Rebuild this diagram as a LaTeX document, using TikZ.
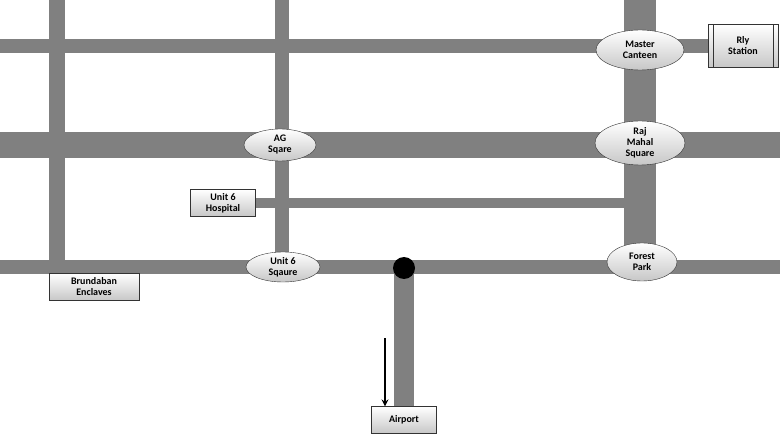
\documentclass[tikz,border=0pt]{standalone}
\usepackage{fontspec}
\setmainfont{Carlito}
\usetikzlibrary{shapes.geometric}
\usetikzlibrary{positioning}

\tikzset{
  road/.style={draw=none,fill=black!50},
  place/.style={ellipse,draw=black!80,top color=white,bottom color=black!22,
    font=\bfseries\fontsize{10}{11}\selectfont,align=center,inner sep=0pt},
  stop/.style={rectangle,draw=black!80,top color=white,bottom color=black!22,
    font=\bfseries\fontsize{10}{11}\selectfont,align=center,inner sep=0pt}
}

\begin{document}
\begin{tikzpicture}[x=1pt,y=-1pt]
    \useasboundingbox (0,0) rectangle (780,441);

    % roads
    \fill [road] (0,39) rectangle (710,53);
    \fill [road] (0,132) rectangle (780,158);
    \fill [road] (255,198) rectangle (625,208);
    \fill [road] (0,260) rectangle (780,274);
    \fill [road] (49,0) rectangle (65,267);
    \fill [road] (275,0) rectangle (289,267);
    \fill [road] (624,0) rectangle (656,267);
    \fill [road] (394,267) rectangle (414,408);

    % places
    \node [place,minimum width=88,minimum height=40] (canteen) at (640,50) {Master\\Canteen};
    \node [place,minimum width=90,minimum height=44] (rajmahal) at (640,143) {Raj\\Mahal\\Square};
    \node [place,minimum width=72,minimum height=32] (agsq) at (280,145) {AG\\Sqare};
    \node [place,minimum width=70,minimum height=38] (forest) at (642,262) {Forest\\Park};
    \node [place,minimum width=74,minimum height=30] (unitsq) at (283,267) {Unit 6\\Sqaure};

    % stops
    \node [stop,minimum width=70,minimum height=43] (rly) at (743,46) {Rly\\Station};
    \draw [black!80] ([xshift=5]rly.north west) -- ([xshift=5]rly.south west);
    \draw [black!80] ([xshift=-5]rly.north east) -- ([xshift=-5]rly.south east);
    \node [stop,minimum width=65,minimum height=27] (hospital) at (223,203) {Unit 6\\Hospital};
    \node [stop,minimum width=90,minimum height=27] (brundaban) at (94,287) {Brundaban\\Enclaves};
    \node [stop,minimum width=65,minimum height=27] (airport) at (404,420) {Airport};

    \fill [black] (404,268) circle (11);
    \coordinate (from) at (385,338);
    \draw [->,line width=2,>=stealth] (from) -- (from |- airport.north);
\end{tikzpicture}
\end{document}
